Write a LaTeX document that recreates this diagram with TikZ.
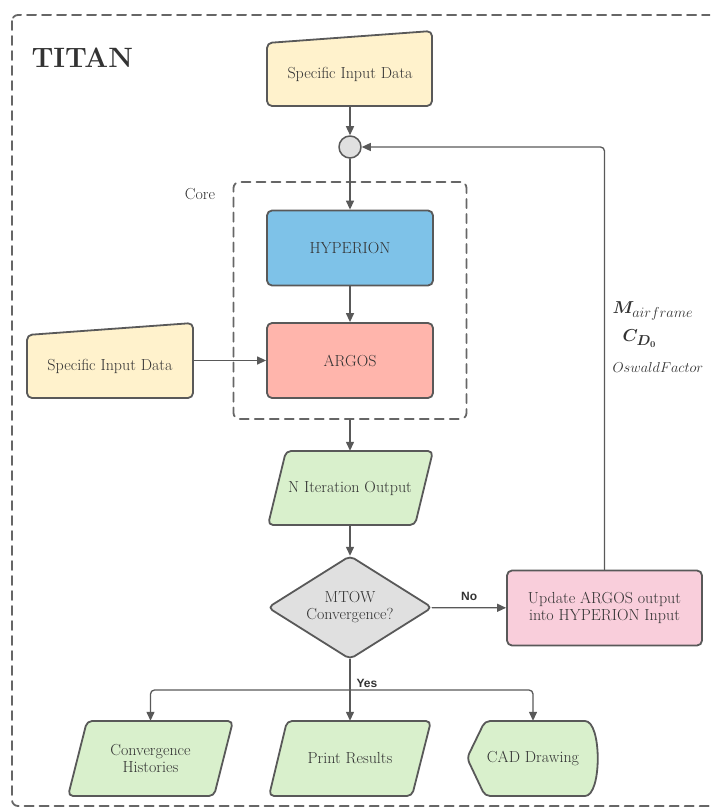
\documentclass[tikz,border=0pt]{standalone}
\usepackage{fontspec}
\usepackage{amsmath,bm}
\newfontfamily\labelfont{Liberation Sans}
\usetikzlibrary{arrows.meta,positioning,shapes.geometric}
\definecolor{cText}{HTML}{333333}
\definecolor{cLine}{HTML}{595959}
\definecolor{cDash}{HTML}{666666}
\definecolor{cYellow}{HTML}{FFF2CC}
\definecolor{cBlue}{HTML}{7EC2E8}
\definecolor{cRed}{HTML}{FFB5AC}
\definecolor{cGreen}{HTML}{D9F0CC}
\definecolor{cGrey}{HTML}{E0E0E0}
\definecolor{cPink}{HTML}{F9CEDB}
\begin{document}
\begin{tikzpicture}[x=1pt, y=-1pt, line join=round, line cap=round, font=\fontsize{16}{17}\selectfont, text=cText,
	>={Triangle[length=9pt,width=8pt]},
	shp/.style={draw=cLine, line width=1.8pt, rounded corners=5pt},
	proc/.style={shp, minimum width=166pt, minimum height=75pt, inner sep=0pt, align=center},
	txt/.style={inner sep=0pt, align=center},
	arr/.style={->, draw=cLine, line width=1.3pt},
	frame/.style={draw=cDash, line width=1.8pt, dash pattern=on 9pt off 6pt, rounded corners=6pt},
	lbl/.style={font=\labelfont\bfseries\fontsize{12}{14}\selectfont}]
	\useasboundingbox (0,0) rectangle (710,810);
	\clip (0,0) rectangle (710,810);
	\draw[frame] (12,15) rectangle (800,806);
	\node[anchor=west, font=\fontsize{28}{30}\selectfont\bfseries] (title) at (28,58) {TITAN};
	
	\draw[shp, fill=cYellow] (350,106) -- (267,106) -- (267,43) -- (432,31) -- (432,106) -- cycle;
	\node[txt, minimum width=165pt, minimum height=63pt] (inTop) at (350,74.5) {Specific Input Data};
	\node[circle, draw=cLine, fill=cGrey, line width=1.5pt, minimum size=22pt, inner sep=0pt] (junc) at (350,147) {};
	
	\node[frame, minimum width=233pt, minimum height=237pt] (core) at (350,300.5) {};
	\node[txt] (coreLbl) at (200,194) {Core};
	\node[proc, fill=cBlue] (hyp) at (350,248) {HYPERION};
	\node[proc, fill=cRed] (arg) at (350,360.5) {ARGOS};
	\draw[shp, fill=cYellow] (110,398) -- (27,398) -- (27,335) -- (193,323) -- (193,398) -- cycle;
	\node[txt, minimum width=166pt, minimum height=63pt] (inLeft) at (110,366.5) {Specific Input Data};
	
	\draw[shp, fill=cGreen] (350,525) -- (268,525) -- (286,451) -- (433,451) -- (415,525) -- cycle;
	\node[txt, minimum width=150pt, minimum height=74pt] (iter) at (350,488) {N Iteration Output};
	\draw[shp, fill=cGrey] (350,556) -- (432,607.5) -- (350,659) -- (268,607.5) -- cycle;
	\node[txt, minimum width=164pt, minimum height=103pt] (dec) at (350,607.5) {MTOW\\Convergence?};
	\node[proc, fill=cPink, minimum width=195pt] (upd) at (604.5,608) {Update ARGOS output\\into HYPERION Input};
	
	\node[anchor=west, font=\fontsize{19}{21}\selectfont] (mAir) at (609,311) {$\bm{M}_{airframe}$};
	\node[anchor=west, font=\fontsize{19}{21}\selectfont] (cDo) at (619,339) {$\bm{C_{D_0}}$};
	\node[anchor=west, font=\fontsize{14}{16}\selectfont] (osw) at (609,367) {$OswaldFactor$};
	
	\draw[shp, fill=cGreen] (150,796) -- (68,796) -- (87,721) -- (233,721) -- (214,796) -- cycle;
	\node[txt, minimum width=140pt, minimum height=75pt] (conv) at (150.5,758.5) {Convergence\\Histories};
	\draw[shp, fill=cGreen] (350,796) -- (269,796) -- (287,721) -- (431,721) -- (412,796) -- cycle;
	\node[txt, minimum width=140pt, minimum height=75pt] (prn) at (350,758.5) {Print Results};
	\draw[shp, fill=cGreen] (530,796) -- (485,796) -- (467,758) -- (485,721) -- (580,721) .. controls (602,721) and (602,796) .. (580,796) -- cycle;
	\node[txt, minimum width=120pt, minimum height=75pt] (cad) at (533,758.5) {CAD Drawing};
	
	\draw[arr] (inTop) -- (junc);
	\draw[arr] (junc) -- (hyp);
	\draw[arr] (hyp) -- (arg);
	\draw[arr] (inLeft.east |- arg.west) -- (arg.west);
	\draw[arr] (core) -- (iter);
	\draw[arr] (iter) -- (dec);
	\draw[arr] (dec) -- node[lbl, above=3pt] (noLbl) {No} (upd);
	\draw[arr, rounded corners=4pt] (upd.north) |- (junc.east);
	\coordinate (split) at (350,690);
	\draw[arr] (dec) -- (prn);
	\draw[arr, rounded corners=4pt] (split) -| (conv.north);
	\draw[arr, rounded corners=4pt] (split) -| (cad.north);
	\node[lbl, anchor=west] (yesLbl) at (353,683) {Yes};
\end{tikzpicture}
\end{document}
